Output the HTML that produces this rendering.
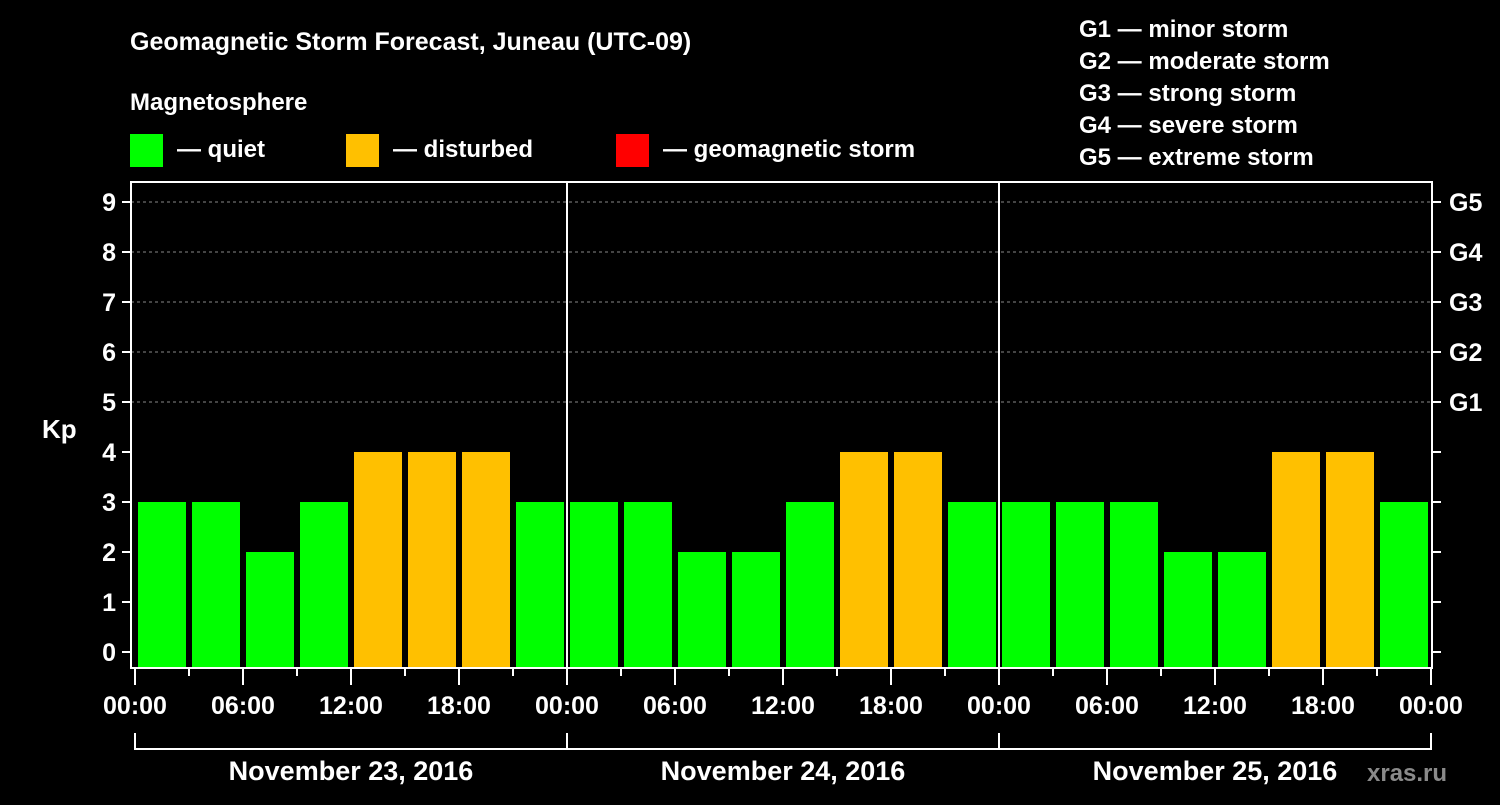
<!DOCTYPE html>
<html><head><meta charset="utf-8"><style>
body{margin:0;background:#000;width:1500px;height:800px;overflow:hidden}
svg text{font-family:"Liberation Sans",sans-serif;font-weight:bold;fill:#fff}
</style></head><body>
<svg id="c" width="1500" height="800">
<text x="130" y="50" font-size="25">Geomagnetic Storm Forecast, Juneau (UTC-09)</text>
<text x="130" y="110" font-size="24">Magnetosphere</text>
<g><rect x="130" y="134" width="33" height="33" fill="#00ff00"/><text x="177" y="157" font-size="24">— quiet</text></g>
<g><rect x="346" y="134" width="33" height="33" fill="#ffc000"/><text x="393" y="157" font-size="24">— disturbed</text></g>
<g><rect x="616" y="134" width="33" height="33" fill="#ff0000"/><text x="663" y="157" font-size="24">— geomagnetic storm</text></g>
<g font-size="24">
<text x="1079" y="37">G1 — minor storm</text><text x="1079" y="69">G2 — moderate storm</text><text x="1079" y="101">G3 — strong storm</text><text x="1079" y="133">G4 — severe storm</text><text x="1079" y="165">G5 — extreme storm</text></g>
<text x="42" y="438" font-size="26">Kp</text>
<text x="1367" y="781" font-size="24" fill="#888" style="fill:#8a8a8a">xras.ru</text>
<g id="plot"></g>
</svg>
<script>
const kpValues=[3,3,2,3,4,4,4,3, 3,3,2,2,3,4,4,3, 3,3,3,2,2,4,4,3];
const dayLabels=["November 23, 2016","November 24, 2016","November 25, 2016"];
const hourLabels=["00:00","06:00","12:00","18:00"];
const gLabels=["G1","G2","G3","G4","G5"];
const X0=135,SLOT=54,L=131,R=1432,T=182,B=668;
const y=v=>652-50*v;
const xs=i=>X0+i*SLOT;
const g=document.getElementById('plot');
const NS='http://www.w3.org/2000/svg';
function mk(tag,at){const e=document.createElementNS(NS,tag);for(const k in at)e.setAttribute(k,at[k]);g.appendChild(e);return e;}
for(let v=5;v<=9;v++){const l=mk('line',{x1:L,x2:R,y1:y(v),y2:y(v),stroke:'#888','stroke-dasharray':'3,3','stroke-width':1});

}
kpValues.forEach((v,i)=>{const r=mk('rect',{x:xs(i)+3,y:y(v),width:48,height:B-y(v),fill:v>=5?'#ff0000':v>=4?'#ffc000':'#00ff00'});

});
const fr=mk('rect',{x:L,y:T,width:R-L,height:B-T,fill:'none',stroke:'#fff','stroke-width':2});


for(let d=1;d<3;d++){const l=mk('line',{x1:xs(d*8),x2:xs(d*8),y1:T,y2:B,stroke:'#fff','stroke-width':2});

}
for(let v=0;v<=9;v++){
mk('line',{x1:L-9,x2:L,y1:y(v),y2:y(v),stroke:'#fff','stroke-width':2});
mk('line',{x1:R,x2:R+9,y1:y(v),y2:y(v),stroke:'#fff','stroke-width':2});
const t=mk('text',{x:L-15,y:y(v)+9,'text-anchor':'end','font-size':25});t.textContent=v;

}
gLabels.forEach((s,i)=>{const t=mk('text',{x:1449,y:y(5+i)+9,'font-size':25});t.textContent=s;

});
for(let i=0;i<=24;i++){const major=i%2==0;mk('line',{x1:xs(i),x2:xs(i),y1:B,y2:B+(major?17:8),stroke:'#fff','stroke-width':2});
if(major){const t=mk('text',{x:xs(i),y:714,'text-anchor':'middle','font-size':25});t.textContent=hourLabels[(i/2)%4];

}}
for(let d=0;d<3;d++){const a=xs(d*8),b=xs(d*8+8);
mk('polyline',{points:`${a},733 ${a},749 ${b},749 ${b},733`,fill:'none',stroke:'#fff','stroke-width':2});
const t=mk('text',{x:(a+b)/2,y:780,'text-anchor':'middle','font-size':27});t.textContent=dayLabels[d];

}
</script>
</body></html>
